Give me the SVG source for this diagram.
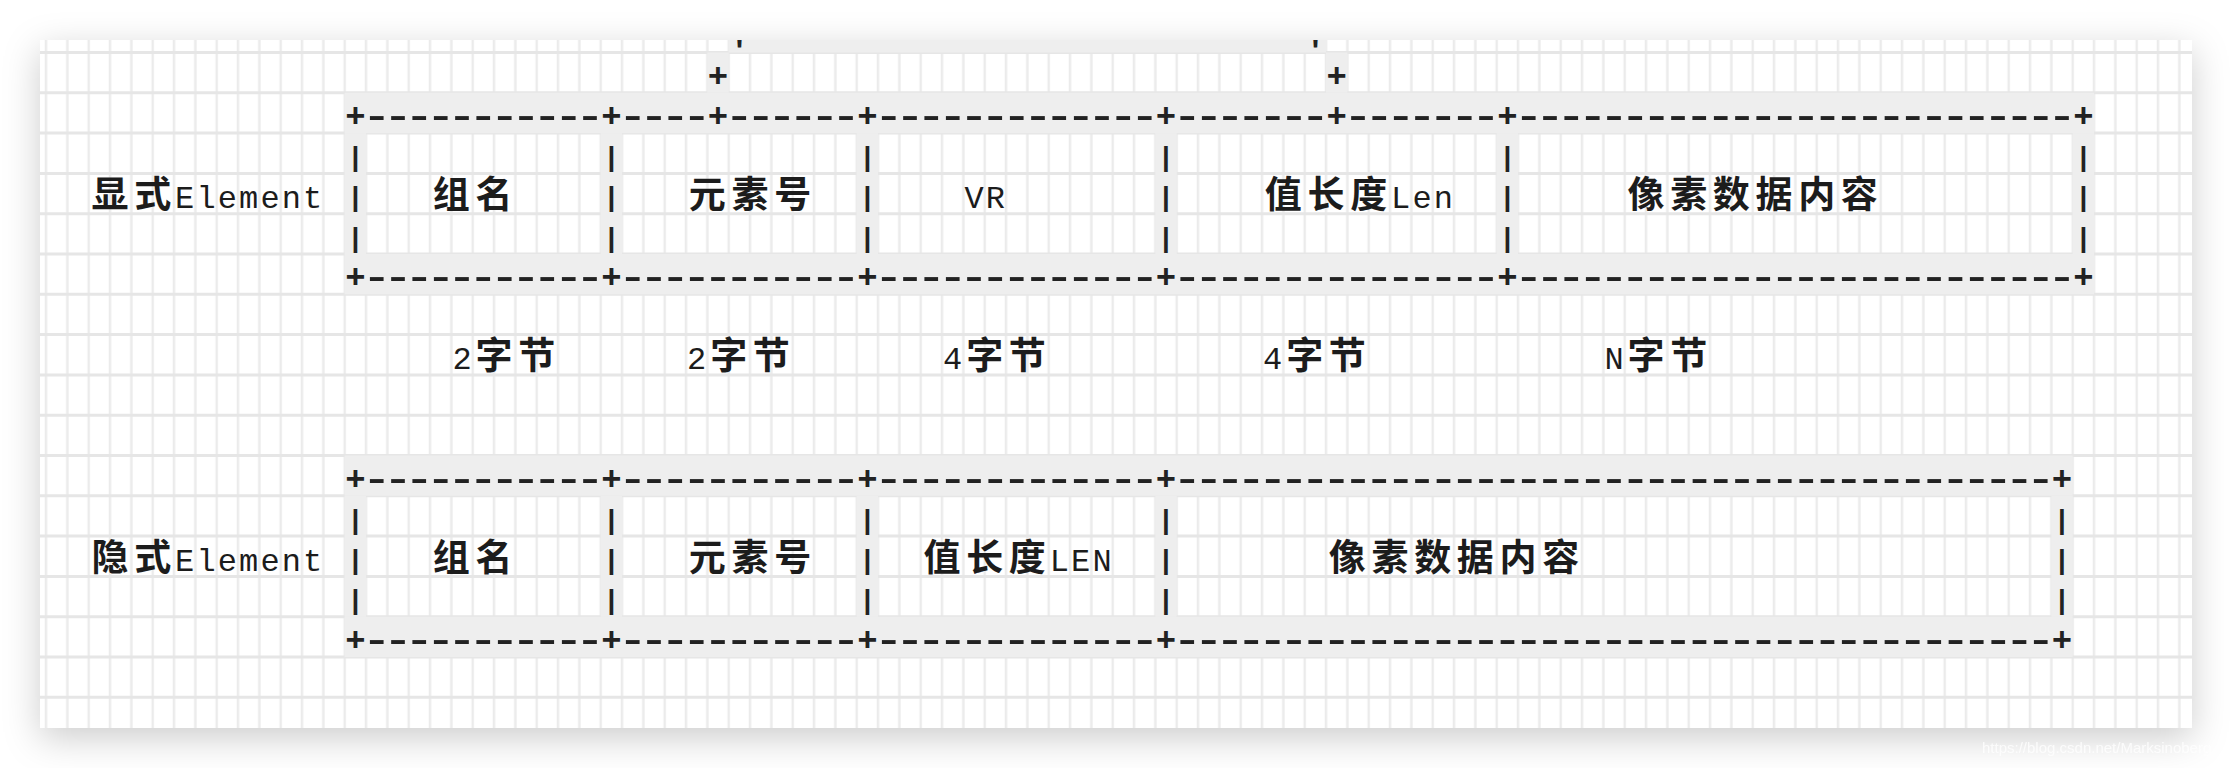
<svg xmlns="http://www.w3.org/2000/svg" width="2232" height="768" viewBox="0 0 2232 768">
<defs>
<filter id="shadow" x="-5%" y="-10%" width="110%" height="130%">
<feDropShadow dx="0" dy="10" stdDeviation="18" flood-color="#000" flood-opacity="0.2"/>
</filter>
<clipPath id="panelClip"><rect x="40" y="40" width="2152" height="688"/></clipPath>
<pattern id="vgrid" patternUnits="userSpaceOnUse" x="44.75" y="0" width="64" height="10">
<rect x="0" y="0" width="2.5" height="10" fill="#ebebeb"/>
<rect x="21.333" y="0" width="2.5" height="10" fill="#ebebeb"/>
<rect x="42.667" y="0" width="2.5" height="10" fill="#ebebeb"/>
</pattern>
<style>
.g{fill:#eeeeee}
.row{font-family:"Liberation Mono",monospace;fill:#222}
.d{font-size:50px;letter-spacing:-8.667px}
.p{font-size:34px;font-weight:bold;letter-spacing:0}
.plus{font-family:"Liberation Mono",monospace;font-size:34px;font-weight:bold;fill:#222;text-anchor:middle}
.pipe{font-family:"Liberation Mono",monospace;font-size:28px;font-weight:bold;fill:#222;text-anchor:middle}
.lbl{text-anchor:middle;fill:#1c1c1c}
.cjk{font-family:"Noto Sans CJK SC","Noto Sans CJK JP",sans-serif;font-size:37px;font-weight:bold}
.lat{font-family:"Liberation Mono",monospace;font-size:32px}
.wm{font-family:"Liberation Sans",Arial,sans-serif;font-size:15px;fill:#fff;opacity:0.8}
</style>
</defs>
<rect x="0" y="0" width="2232" height="768" fill="#fff"/>
<rect x="40" y="40" width="2152" height="688" fill="#fff" filter="url(#shadow)"/>
<g clip-path="url(#panelClip)">
<g id="grid">
<rect x="40" y="40" width="2152" height="688" fill="url(#vgrid)"/>
<path d="M40 52.5H2192M40 92.8H2192M40 133.1H2192M40 173.4H2192M40 213.7H2192M40 254H2192M40 294.3H2192M40 334.6H2192M40 374.9H2192M40 415.2H2192M40 455.5H2192M40 495.8H2192M40 536.1H2192M40 576.4H2192M40 616.7H2192M40 657H2192M40 697.3H2192" stroke="#e6e6e6" stroke-width="3" fill="none"/>
</g>
<g id="highlights">
<rect class="g" x="728.67" y="40" width="597.33" height="12.5"/>
<rect class="g" x="707.33" y="52.5" width="21.33" height="40.3"/>
<rect class="g" x="1326" y="52.5" width="21.33" height="40.3"/>
<rect class="g" x="344.67" y="92.8" width="1749.33" height="40.3"/>
<rect class="g" x="344.67" y="133.1" width="21.33" height="120.9"/>
<rect class="g" x="600.67" y="133.1" width="21.33" height="120.9"/>
<rect class="g" x="856.67" y="133.1" width="21.33" height="120.9"/>
<rect class="g" x="1155.33" y="133.1" width="21.33" height="120.9"/>
<rect class="g" x="1496.67" y="133.1" width="21.33" height="120.9"/>
<rect class="g" x="2072.67" y="133.1" width="21.33" height="120.9"/>
<rect class="g" x="344.67" y="254" width="1749.33" height="40.3"/>
<rect class="g" x="344.67" y="455.5" width="1728" height="40.3"/>
<rect class="g" x="344.67" y="495.8" width="21.33" height="120.9"/>
<rect class="g" x="600.67" y="495.8" width="21.33" height="120.9"/>
<rect class="g" x="856.67" y="495.8" width="21.33" height="120.9"/>
<rect class="g" x="1155.33" y="495.8" width="21.33" height="120.9"/>
<rect class="g" x="2051.33" y="495.8" width="21.33" height="120.9"/>
<rect class="g" x="344.67" y="616.7" width="1728" height="40.3"/>
</g>
<g id="connectors">
<text class="plus" x="739.33" y="61">'</text>
<text class="plus" x="1315.33" y="61">'</text>
<text class="plus" x="718" y="86.7">+</text>
<text class="plus" x="1336.67" y="86.7">+</text>
<text class="row"><tspan class="p" x="345.13" y="127">+</tspan><tspan class="d" x="361.67" y="131.1">-----------</tspan><tspan class="p" x="601.13" y="127">+</tspan><tspan class="d" x="617.67" y="131.1">----</tspan><tspan class="p" x="707.8" y="127">+</tspan><tspan class="d" x="724.33" y="131.1">------</tspan><tspan class="p" x="857.13" y="127">+</tspan><tspan class="d" x="873.67" y="131.1">-------------</tspan><tspan class="p" x="1155.8" y="127">+</tspan><tspan class="d" x="1172.33" y="131.1">-------</tspan><tspan class="p" x="1326.47" y="127">+</tspan><tspan class="d" x="1343" y="131.1">-------</tspan><tspan class="p" x="1497.13" y="127">+</tspan><tspan class="d" x="1513.67" y="131.1">--------------------------</tspan><tspan class="p" x="2073.13" y="127">+</tspan></text>
<text class="pipe" x="355.33 355.33 355.33" y="166.1 206.4 246.7">|||</text>
<text class="pipe" x="611.33 611.33 611.33" y="166.1 206.4 246.7">|||</text>
<text class="pipe" x="867.33 867.33 867.33" y="166.1 206.4 246.7">|||</text>
<text class="pipe" x="1166 1166 1166" y="166.1 206.4 246.7">|||</text>
<text class="pipe" x="1507.33 1507.33 1507.33" y="166.1 206.4 246.7">|||</text>
<text class="pipe" x="2083.33 2083.33 2083.33" y="166.1 206.4 246.7">|||</text>
<text class="row"><tspan class="p" x="345.13" y="288.2">+</tspan><tspan class="d" x="361.67" y="292.3">-----------</tspan><tspan class="p" x="601.13" y="288.2">+</tspan><tspan class="d" x="617.67" y="292.3">-----------</tspan><tspan class="p" x="857.13" y="288.2">+</tspan><tspan class="d" x="873.67" y="292.3">-------------</tspan><tspan class="p" x="1155.8" y="288.2">+</tspan><tspan class="d" x="1172.33" y="292.3">---------------</tspan><tspan class="p" x="1497.13" y="288.2">+</tspan><tspan class="d" x="1513.67" y="292.3">--------------------------</tspan><tspan class="p" x="2073.13" y="288.2">+</tspan></text>
<text class="row"><tspan class="p" x="345.13" y="489.7">+</tspan><tspan class="d" x="361.67" y="493.8">-----------</tspan><tspan class="p" x="601.13" y="489.7">+</tspan><tspan class="d" x="617.67" y="493.8">-----------</tspan><tspan class="p" x="857.13" y="489.7">+</tspan><tspan class="d" x="873.67" y="493.8">-------------</tspan><tspan class="p" x="1155.8" y="489.7">+</tspan><tspan class="d" x="1172.33" y="493.8">-----------------------------------------</tspan><tspan class="p" x="2051.8" y="489.7">+</tspan></text>
<text class="pipe" x="355.33 355.33 355.33" y="528.8 569.1 609.4">|||</text>
<text class="pipe" x="611.33 611.33 611.33" y="528.8 569.1 609.4">|||</text>
<text class="pipe" x="867.33 867.33 867.33" y="528.8 569.1 609.4">|||</text>
<text class="pipe" x="1166 1166 1166" y="528.8 569.1 609.4">|||</text>
<text class="pipe" x="2062 2062 2062" y="528.8 569.1 609.4">|||</text>
<text class="row"><tspan class="p" x="345.13" y="650.9">+</tspan><tspan class="d" x="361.67" y="655">-----------</tspan><tspan class="p" x="601.13" y="650.9">+</tspan><tspan class="d" x="617.67" y="655">-----------</tspan><tspan class="p" x="857.13" y="650.9">+</tspan><tspan class="d" x="873.67" y="655">-------------</tspan><tspan class="p" x="1155.8" y="650.9">+</tspan><tspan class="d" x="1172.33" y="655">-----------------------------------------</tspan><tspan class="p" x="2051.8" y="650.9">+</tspan></text>
</g>
<g id="explicit-label"><text class="lbl" y="207.9"><tspan class="cjk" x="110 152.67">显式</tspan><tspan class="lat" x="184.67 206 227.33 248.67 270 291.33 312.67">Element</tspan></text></g>
<g id="explicit-group"><text class="lbl" y="207.9"><tspan class="cjk" x="451.33 494">组名</tspan></text></g>
<g id="explicit-element"><text class="lbl" y="207.9"><tspan class="cjk" x="707.33 750 792.67">元素号</tspan></text></g>
<g id="explicit-vr"><text class="lbl" y="207.9"><tspan class="lat" x="974 995.33">VR</tspan></text></g>
<g id="explicit-len"><text class="lbl" y="207.9"><tspan class="cjk" x="1283.33 1326 1368.67">值长度</tspan><tspan class="lat" x="1400.67 1422 1443.33">Len</tspan></text></g>
<g id="explicit-data"><text class="lbl" y="207.9"><tspan class="cjk" x="1646 1688.67 1731.33 1774 1816.67 1859.33">像素数据内容</tspan></text></g>
<g id="bytes-group"><text class="lbl" y="369.1"><tspan class="lat" x="462">2</tspan><tspan class="cjk" x="494 536.67">字节</tspan></text></g>
<g id="bytes-element"><text class="lbl" y="369.1"><tspan class="lat" x="696.67">2</tspan><tspan class="cjk" x="728.67 771.33">字节</tspan></text></g>
<g id="bytes-vr"><text class="lbl" y="369.1"><tspan class="lat" x="952.67">4</tspan><tspan class="cjk" x="984.67 1027.33">字节</tspan></text></g>
<g id="bytes-len"><text class="lbl" y="369.1"><tspan class="lat" x="1272.67">4</tspan><tspan class="cjk" x="1304.67 1347.33">字节</tspan></text></g>
<g id="bytes-data"><text class="lbl" y="369.1"><tspan class="lat" x="1614">N</tspan><tspan class="cjk" x="1646 1688.67">字节</tspan></text></g>
<g id="implicit-label"><text class="lbl" y="570.6"><tspan class="cjk" x="110 152.67">隐式</tspan><tspan class="lat" x="184.67 206 227.33 248.67 270 291.33 312.67">Element</tspan></text></g>
<g id="implicit-group"><text class="lbl" y="570.6"><tspan class="cjk" x="451.33 494">组名</tspan></text></g>
<g id="implicit-element"><text class="lbl" y="570.6"><tspan class="cjk" x="707.33 750 792.67">元素号</tspan></text></g>
<g id="implicit-len"><text class="lbl" y="570.6"><tspan class="cjk" x="942 984.67 1027.33">值长度</tspan><tspan class="lat" x="1059.33 1080.67 1102">LEN</tspan></text></g>
<g id="implicit-data"><text class="lbl" y="570.6"><tspan class="cjk" x="1347.33 1390 1432.67 1475.33 1518 1560.67">像素数据内容</tspan></text></g>
</g>
<text class="wm" x="1982" y="753">https://blog.csdn.net/Marksinoberg</text>
</svg>
